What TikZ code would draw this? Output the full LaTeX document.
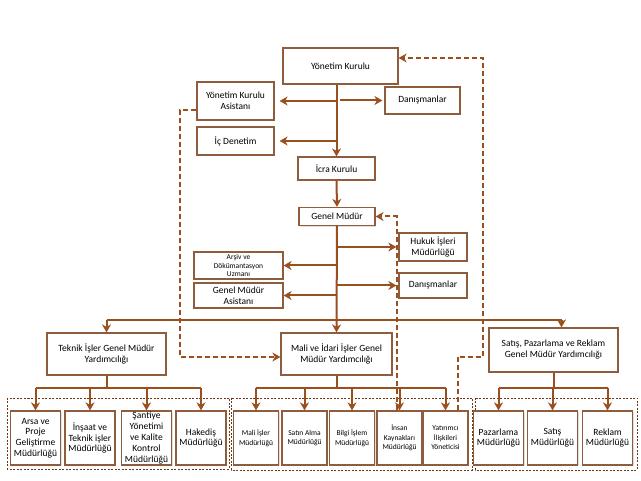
\documentclass[tikz,border=0pt]{standalone}
\usepackage{fontspec}
\setmainfont{Carlito}
\usetikzlibrary{arrows.meta,shadows}
\definecolor{brn}{HTML}{9A4F1E}
\definecolor{bd}{HTML}{8E5D3E}
\begin{document}
\begin{tikzpicture}[x=1pt,y=-1pt,>={Stealth[length=8pt,width=9pt,inset=2.5pt]},
every node/.style={font=\fontsize{9.5}{11}\selectfont},
box/.style={draw=bd,fill=white,line width=1.2pt,align=center,inner sep=.5pt,
  drop shadow={shadow xshift=1.2pt,shadow yshift=-1.2pt,opacity=.25}},
ln/.style={draw=brn,line width=2pt},
dsh/.style={draw=brn,line width=2pt,dash pattern=on 5pt off 3pt},
grp/.style={draw=brn!70!black,line width=.5pt,dash pattern=on 2pt off 1.5pt}]
\useasboundingbox (0,0) rectangle (641,481);
\draw[grp] (7,398) rectangle (229,469);
\draw[grp] (231,398) rectangle (472,470);
\draw[grp] (475,398) rectangle (637,470);
\node[box,minimum width=115,minimum height=36] (yk) at (340.5,66) {Yönetim Kurulu};
\node[box,minimum width=77,minimum height=38] (yka) at (235.5,101) {Yönetim Kurulu\\Asistanı};
\node[box,minimum width=77,minimum height=28] (icd) at (235.5,141) {İç Denetim};
\node[box,minimum width=75,minimum height=27] (dan1) at (422.5,100.5) {Danışmanlar};
\node[box,minimum width=77,minimum height=23] (icra) at (336.5,168.5) {İcra Kurulu};
\node[box,minimum width=76,minimum height=18] (gm) at (337,216.5) {Genel Müdür};
\node[box,minimum width=68,minimum height=28] (huk) at (433,247) {Hukuk İşleri\\Müdürlüğü};
\node[box,minimum width=68,minimum height=25] (dan2) at (433,285.5) {Danışmanlar};
\node[box,minimum width=89,minimum height=27,font=\fontsize{7.5}{8.3}\selectfont] (ars) at (238.5,265.5) {Arşiv ve\\Dökümantasyon\\Uzmanı};
\node[box,minimum width=89,minimum height=25] (gma) at (238.5,295.5) {Genel Müdür\\Asistanı};
\node[box,minimum width=119,minimum height=42] (tek) at (106.5,354) {Teknik İşler Genel Müdür\\Yardımcılığı};
\node[box,minimum width=111,minimum height=42] (mal) at (336.5,354) {Mali ve İdari İşler Genel\\Müdür Yardımcılığı};
\node[box,minimum width=129,minimum height=44] (sat) at (553.5,350) {Satış, Pazarlama ve Reklam\\Genel Müdür Yardımcılığı};
\foreach \n/\x/\t in {t1/35.5/{Arsa ve\\Proje\\Geliştirme\\Müdürlüğü},t2/90/{İnşaat ve\\Teknik işler\\Müdürlüğü},
  t3/146.5/{Şantiye\\Yönetimi\\ve Kalite\\Kontrol\\Müdürlüğü},t4/201/{Hakediş\\Müdürlüğü}}
  \node[box,minimum width=50,minimum height=54,font=\fontsize{9.5}{10.8}\selectfont] (\n) at (\x,438) {\t};
\foreach \n/\x/\t in {m1/256/{Mali İşler\\Müdürlüğü},m2/304.5/{Satın Alma\\Müdürlüğü},m3/352/{Bilgi İşlem\\Müdürlüğü},
  m4/399.5/{İnsan\\Kaynakları\\Müdürlüğü},m5/445.5/{Yatırımcı\\İlişkileri\\Yöneticisi}}
  \node[box,minimum width=45,minimum height=54,font=\fontsize{7.5}{9.5}\selectfont] (\n) at (\x,438) {\t};
\foreach \n/\x/\t in {s1/498.5/{Pazarlama\\Müdürlüğü},s2/552.5/{Satış\\Müdürlüğü},s3/607.5/{Reklam\\Müdürlüğü}}
  \node[box,minimum width=50,minimum height=54,font=\fontsize{9.5}{10.8}\selectfont] (\n) at (\x,438) {\t};
\draw[ln,->] (yk.south -| icra) -- (icra.north);
\foreach \b in {yka,icd} \draw[ln,->,shorten >=5pt] (\b.east -| icra) -- (\b.east);
\draw[ln,->,shorten >=2pt] ([xshift=3pt]dan1.west -| icra) -- (dan1.west);
\draw[ln,->] (icra.south) -- (gm.north);
\foreach \b in {ars,gma} \draw[ln,->] (\b.east -| gm) -- (\b.east);
\foreach \b in {huk,dan2} \draw[ln,->,shorten >=2pt] (\b.west -| gm) -- (\b.west);
\draw[ln,->] (gm.south) -- (mal.north);
\coordinate (bus) at (337,320);
\coordinate (sb) at (0,388);
\draw[ln,->] (bus -| tek) -- (tek.north);
\draw[ln,->] ([xshift=8pt]bus -| sat) -- ([xshift=8pt]sat.north);
\draw[ln] (bus -| tek) -- ([xshift=8pt]bus -| sat);
\foreach \p/\a/\z in {tek/t1/t4,mal/m1/m5,sat/s1/s3}{
  \draw[ln] (\p.south) -- (\p.south |- sb);
  \draw[ln] (sb -| \a) -- (sb -| \z);}
\foreach \c in {t1,t2,t3,t4,m1,m2,m3,m4,m5,s1,s2,s3} \draw[ln,->] (sb -| \c) -- (\c.north);
\draw[dsh,->] ([yshift=-9pt]yka.west) -- ++(-16,0) |- ([yshift=-3pt]mal.west);
\draw[dsh,->] ([xshift=-3pt]m4.north) |- (gm.east);
\coordinate (dk) at (483,357);
\draw[dsh,->] ([xshift=12pt]m5.north) |- (dk) |- ([yshift=8pt]yk.east);
\end{tikzpicture}
\end{document}
